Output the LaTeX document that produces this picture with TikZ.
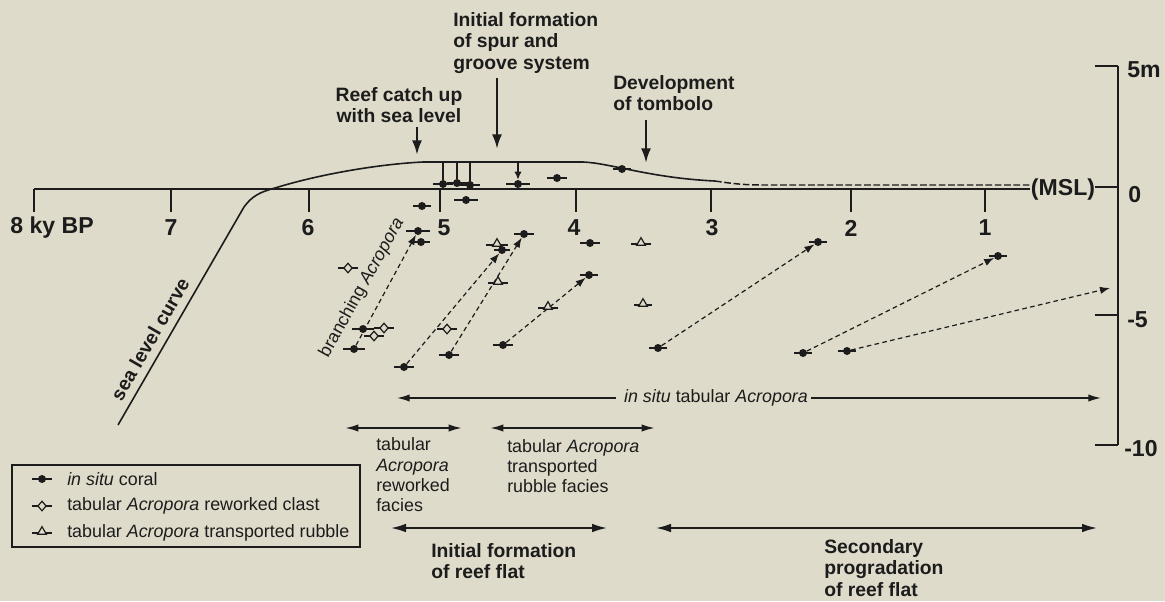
\documentclass[tikz,border=0pt]{standalone}
\usepackage{fontspec}
\setmainfont{Liberation Sans}
\usetikzlibrary{arrows.meta,shapes.geometric,calc}
\definecolor{bg}{HTML}{DFDBCA}
\definecolor{ink}{HTML}{1C1C1C}
\newcommand\axf{\fontsize{17.3}{19}\selectfont\bfseries}
\newcommand\anf{\fontsize{14.5}{16.3}\selectfont\bfseries}
\newcommand\rgf{\fontsize{13.4}{15.2}\selectfont}
\newcommand\mk[5]{\draw[ebar] (#3-#5,#4) -- (#3+#5,#4); \node[#1] (#2) at (#3,#4) {};}
\begin{document}
\begin{tikzpicture}[x=0.75pt,y=-0.75pt,
  every node/.style={inner sep=0pt, text=ink},
  axis/.style={draw=ink, line width=1.6pt},
  tickl/.style={draw=ink, line width=1.5pt},
  slc/.style={draw=ink, line width=1.2pt, line join=round},
  msldash/.style={draw=ink, line width=1.1pt, dash pattern=on 5pt off 2pt},
  ebar/.style={draw=ink, line width=1.2pt},
  vline/.style={draw=ink, line width=1.1pt},
  dot/.style={circle, fill=ink, minimum size=6pt},
  clast/.style={diamond, draw=ink, fill=bg, line width=0.9pt, minimum width=6.5pt, minimum height=7.5pt},
  rubble/.style={regular polygon, regular polygon sides=3, draw=ink, fill=bg, line width=0.9pt, minimum size=7.5pt, yshift=1pt},
  darr/.style={draw=ink, line width=0.9pt, dash pattern=on 3.5pt off 2.5pt, -{Latex[length=7.5pt,width=5.5pt]}},
  bigarr/.style={draw=ink, line width=1.8pt, -{Latex[length=11pt,width=7.5pt]}},
  thinarr/.style={draw=ink, line width=1.1pt, -{Latex[length=9.5pt,width=5.5pt]}},
  facarr/.style={draw=ink, line width=1.4pt, {Latex[length=10pt,width=5.5pt]}-{Latex[length=10pt,width=5.5pt]}},
  flatarr/.style={draw=ink, line width=2pt, {Latex[length=12pt,width=6.5pt]}-{Latex[length=12pt,width=6.5pt]}},
  tickf/.style={font=\axf},
  annf/.style={font=\anf, align=left},
  regf/.style={font=\rgf, align=left}
]
\useasboundingbox[fill=bg] (0,0) rectangle (1165,601);

% ---- time axis
\node[tickf] (msl) at (1063,190) {(MSL)};
\draw[axis] (34,189) -- (1030,189);
\foreach \x in {34,171,309,440,576,711,851,985} \draw[tickl] (\x,189) -- (\x,212);
\node[tickf] (t8) at (52,228) {8 ky BP};
\node[tickf] (t7) at (171,228) {7};
\node[tickf] (t6) at (308,228) {6};
\node[tickf] (t5) at (444,228) {5};
\node[tickf] (t4) at (574,228) {4};
\node[tickf] (t3) at (712,228) {3};
\node[tickf] (t2) at (851,228) {2};
\node[tickf] (t1) at (985,228) {1};

% ---- depth axis
\draw[axis] (1118,66) -- (1118,445);
\draw[tickl] (1095,66) -- (1118,66);
\draw[tickl] (1095,315) -- (1118,315);
\draw[tickl] (1095,445) -- (1118,445);
\coordinate (mslR) at (1118,187);
\draw[tickl] (msl.east |- mslR) -- (mslR);
\node[tickf, anchor=west] (d5m) at (1127,70) {5m};
\node[tickf, anchor=west] (d0) at (1128,195) {0};
\node[tickf, anchor=west] (dm5) at (1127,320) {-5};
\node[tickf, anchor=west] (dm10) at (1124,449) {-10};

% ---- sea level curve
\draw[slc] (118,425) -- (244,207) .. controls (252,196) and (260,192) .. (275,188)
  .. controls (320,174) and (380,164) .. (423,162) -- (583,162)
  .. controls (610,163) and (650,178) .. (715,181);
\draw[msldash] (715,181) .. controls (735,184) and (745,185) .. (765,185) -- (1030,185);
\node[font=\anf, rotate=60] (slclab) at (150,339) {sea level curve};
\node[font=\rgf, rotate=61] (branch) at (362,288) {branching \textit{Acropora}};

% ---- data points
\mk{dot}{d1}{443}{184}{10}
\mk{dot}{d2}{457}{183}{10}
\mk{dot}{d3}{470}{185}{10}
\mk{dot}{d4}{518}{184}{12}
\mk{dot}{d5}{557}{178}{10}
\mk{dot}{d6}{466}{200}{12}
\mk{dot}{d7}{422}{206}{9}
\mk{dot}{d8}{418}{231}{12}
\mk{dot}{d9}{421}{242}{9}
\mk{dot}{d10}{363}{329}{11}
\mk{dot}{d11}{354}{349}{11}
\mk{dot}{d12}{404}{367}{10}
\mk{dot}{d13}{449}{355}{10}
\mk{dot}{d14}{503}{345}{10}
\mk{rubble}{r5}{497}{245}{11}
\mk{dot}{d15}{502}{250}{8}
\mk{dot}{d16}{524}{234}{10}
\mk{dot}{d17}{590}{243}{10}
\mk{dot}{d18}{589}{275}{9}
\mk{dot}{d19}{622}{169}{9}
\mk{dot}{d20}{658}{348}{9}
\mk{dot}{d21}{818}{242}{9}
\mk{dot}{d22}{998}{256}{9}
\mk{dot}{d23}{803}{353}{9}
\mk{dot}{d24}{847}{351}{9}
\mk{clast}{c1}{348}{268}{10}
\mk{clast}{c2}{384}{328}{10}
\mk{clast}{c3}{374}{336}{10}
\mk{clast}{c4}{447}{329}{10}
\mk{rubble}{r1}{498}{283}{10}
\mk{rubble}{r2}{548}{308}{10}
\mk{rubble}{r3}{641}{244}{10}
\mk{rubble}{r4}{643}{305}{9}

% ---- plateau verticals
\coordinate (v1) at (443,162);
\coordinate (v2) at (457,162);
\coordinate (v3) at (470,162);
\coordinate (v4) at (518,162);
\draw[vline] (v1) -- (d1);
\draw[vline] (v2) -- (d2);
\draw[vline] (v3) -- (d3);
\draw[vline, line width=1.5pt, -{Latex[length=6pt,width=5.5pt]}] (v4) -- (d4);

% ---- dashed growth arrows
\coordinate (gend) at (1110,288);
\draw[darr] (d11) -- (d8);
\draw[darr] (d12) -- (d15);
\draw[darr] (d13) -- (d16);
\draw[darr] (d14) -- (d18);
\draw[darr] (d20) -- (d21);
\draw[darr] (d23) -- (d22);
\draw[darr] (d24) -- (gend);

% ---- top annotations
\node[annf, align=center] (reef) at (399,105) {Reef catch up\\with sea level};
\node[annf, anchor=west] (spur) at (453,43) {Initial formation\\of spur and\\groove system};
\node[annf, anchor=west] (tomb) at (613,93) {Development\\of tombolo};
\coordinate (rcT) at (417,127); \coordinate (rcB) at (417,155);
\coordinate (sgT) at (497,78);  \coordinate (sgB) at (497,149);
\coordinate (tbT) at (646,120); \coordinate (tbB) at (646,163);
\draw[bigarr] (rcT) -- (rcB);
\draw[bigarr] (sgT) -- (sgB);
\draw[bigarr] (tbT) -- (tbB);

% ---- bottom annotations
\node[regf] (insitu) at (716,398) {\textit{in situ} tabular \textit{Acropora}};
\coordinate (isL) at (397,398); \coordinate (isR) at (1101,398);
\draw[thinarr] ($(insitu.west)+(-8,0)$) -- (isL);
\draw[thinarr] ($(insitu.east)+(3,0)$) -- (isR);

\coordinate (fa1) at (345,428); \coordinate (fa2) at (462,428);
\coordinate (fb1) at (490,428); \coordinate (fb2) at (655,428);
\draw[facarr] (fa1) -- (fa2);
\draw[facarr] (fb1) -- (fb2);
\node[regf, anchor=west] (rwf) at (376,475) {tabular\\\textit{Acropora}\\reworked\\facies};
\node[regf, anchor=west] (trf) at (507,466) {tabular \textit{Acropora}\\transported\\rubble facies};

\coordinate (ra1) at (390,528); \coordinate (ra2) at (608,528);
\coordinate (rb1) at (655,528); \coordinate (rb2) at (1098,528);
\draw[flatarr] (ra1) -- (ra2);
\draw[flatarr] (rb1) -- (rb2);
\node[annf, anchor=west] (ifrf) at (431,561) {Initial formation\\of reef flat};
\node[annf, anchor=west] (sprf) at (824,568) {Secondary\\progradation\\of reef flat};

% ---- legend
\draw[draw=ink, line width=0.9pt] (12,465) rectangle (360,547);
\mk{dot}{l1}{42}{479}{10}
\mk{clast}{l2}{42}{506}{10}
\mk{rubble}{l3}{42}{533}{10}
\node[regf, anchor=west] (lt1) at (67,479) {\textit{in situ} coral};
\node[regf, anchor=west] (lt2) at (67,506) {tabular \textit{Acropora} reworked clast};
\node[regf, anchor=west] (lt3) at (67,533) {tabular \textit{Acropora} transported rubble};
\end{tikzpicture}
\end{document}
